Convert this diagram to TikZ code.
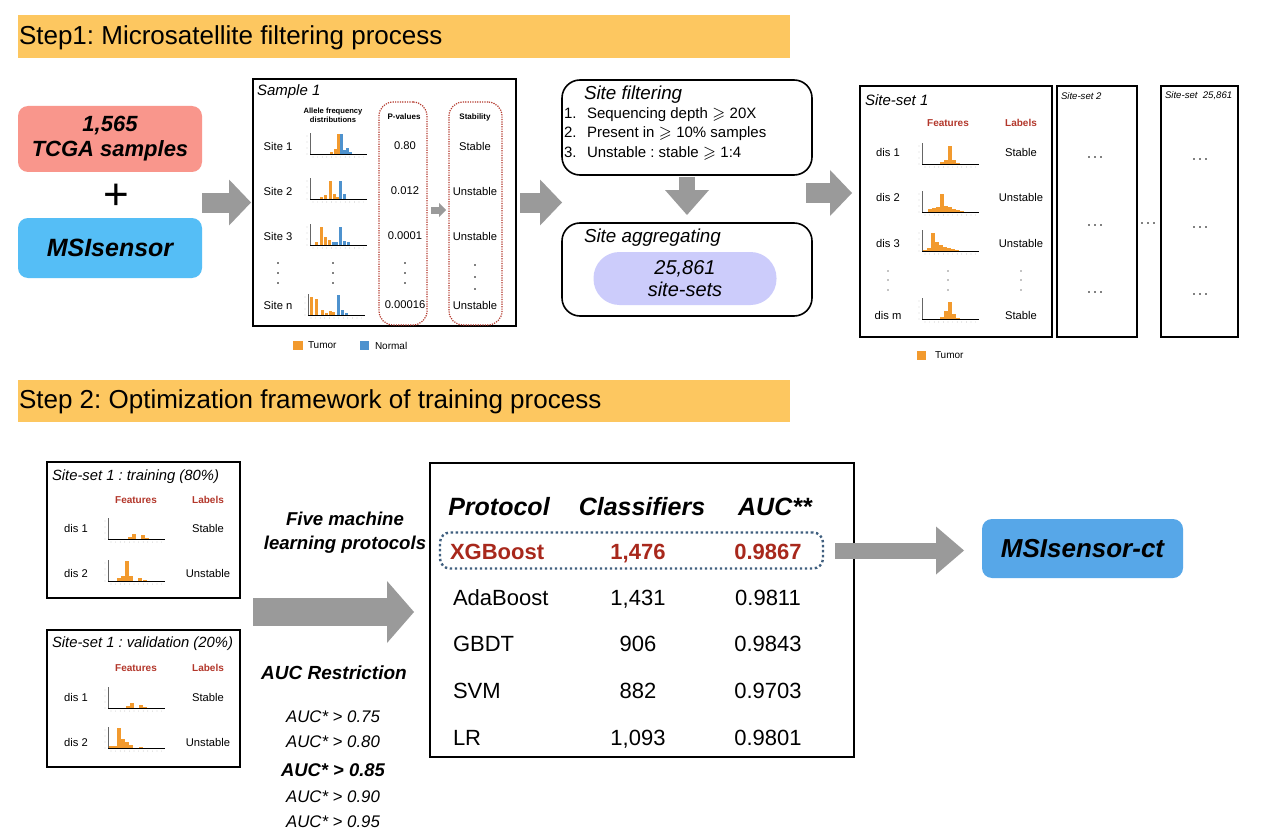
\documentclass[tikz,border=0pt]{standalone}
\usepackage{fontspec}
\setmainfont{Liberation Sans}
\usepackage{amssymb}
\usetikzlibrary{arrows.meta,fit,calc}
\definecolor{hdrc}{HTML}{FDC760}
\definecolor{tcgac}{HTML}{F9968C}
\definecolor{msic}{HTML}{55BEF6}
\definecolor{ctc}{HTML}{57A7E8}
\definecolor{pillc}{HTML}{CCCCFB}
\definecolor{arrc}{HTML}{9A9A9A}
\definecolor{dred}{HTML}{A8281C}
\definecolor{fred}{HTML}{B3372B}
\definecolor{dotblue}{HTML}{3F5F7F}
\definecolor{tum}{HTML}{F29A2E}
\definecolor{nor}{HTML}{4E92CE}
\newcommand{\fsz}[2]{\fontsize{#1}{#2}\selectfont}
\newcommand{\minihist}[4]{%
  \foreach \dx/\hh/\hc in {#4} {\fill[\hc] ({#2+\dx},{#3}) rectangle ({#2+\dx+#1},{#3-\hh});}
  \draw[line width=0.35pt] (#2,#3) -- ({#2+57},#3);
  \draw[line width=0.2pt, black!60] (#2,#3) -- (#2,{#3-21});
  \foreach \i in {0,...,11} {\fill[black!45] ({#2+3+\i*4.6},{#3+3}) circle (0.35);}
  \foreach \i in {0,...,3} {\fill[black!45] ({#2-3},{#3-\i*6}) circle (0.35);}
}
\begin{document}
\frenchspacing
\begin{tikzpicture}[x=0.5pt,y=-0.5pt,
  every node/.style={inner sep=0pt, outer sep=0pt},
  sz/.style 2 args={minimum width=#1*0.5pt, minimum height=#2*0.5pt},
  frame/.style={draw=black, line width=0.8pt},
  garrow/.style n args={3}{draw=arrc, line width=#1*0.5pt, -{Triangle[width=#2*0.5pt, length=#3*0.5pt, line width=0pt, fill=arrc]}},
  reddot/.style={draw=fred, line width=0.6pt, dash pattern=on 0.6pt off 0.6pt, rounded corners=7pt},
  small/.style={font=\fsz{5.6}{6.8}},
  feat/.style={font=\fsz{5}{6}\bfseries, text=fred},
  aucs/.style={font=\fsz{8.4}{10}\itshape},
  trow/.style={anchor=base, font=\fsz{11}{13}},
  vdot/.style={fill=black}
]
\useasboundingbox (0,0) rectangle (1280,840);
\fill[white] (0,0) rectangle (1280,840);

% ---------- headers
\node[fill=hdrc, sz={772}{43}] (hdr1) at (404,36.5) {};
\node[anchor=west, font={\fsz{13}{15}}] (hdr1t) at (19,38) {Step1: Microsatellite filtering process};
\node[fill=hdrc, sz={772}{42}] (hdr2) at (404,401) {};
\node[anchor=west, font={\fsz{13}{15}}] (hdr2t) at (19,402) {Step 2: Optimization framework of training process};

% ---------- inputs
\node[fill=tcgac, rounded corners=5pt, sz={184}{66}, align=center, font={\fsz{11}{12.5}\bfseries\itshape}] (tcga) at (110,139) {1,565\\TCGA samples};
\node[font={\fsz{22}{22}}] (plus) at (116,197) {+};
\node[fill=msic, rounded corners=5pt, sz={184}{60}, font={\fsz{12.5}{14}\bfseries\itshape}] (msi) at (110,248) {MSIsensor};

% ---------- sample box
\node[frame, sz={263}{247}] (sample) at (384.5,202.5) {};
\node[anchor=west, font={\fsz{7.5}{9}\itshape}] (smp) at (257,92) {Sample 1};
\node[reddot, sz={48}{223}] (pbox) at (403,213.5) {};
\node[reddot, sz={53}{223}] (sbox) at (475.5,213.5) {};
\node[align=center, font={\fsz{3.8}{4.6}\bfseries}] (afd) at (333,115) {Allele frequency\\distributions};
\node[font={\fsz{4}{5}\bfseries}] (pv) at (404,117) {P-values};
\node[font={\fsz{4}{5}\bfseries}] (stb) at (475,117) {Stability};
\foreach \y/\s/\p/\st [count=\i] in {146/1/0.80/Stable, 191/2/0.012/Unstable, 236/3/0.0001/Unstable, 305/n/0.00016/Unstable} {
  \node[small] (site\i) at (278,\y) {Site \s};
  \node[small] (pval\i) at (405,\y) {\p};
  \node[small] (stab\i) at (475,\y) {\st};
}
\foreach \x in {278,333,405} {\foreach \y in {263,273,283} {\fill (\x,\y) circle (0.8);}}
\foreach \y in {265,277,289} {\fill (475,\y) circle (0.9);}
\minihist{3}{310}{154}{20/2/tum, 24/5/tum, 27/20/tum, 30/20/nor, 33/4/nor, 36/6/nor, 39/2/nor}
\minihist{3}{310}{199}{10/2/tum, 14/4/tum, 19/18/tum, 23/5/tum, 26/2/tum, 29/18/nor, 33/5/nor}
\minihist{3}{310}{245}{5/3/tum, 10/18/tum, 14/8/tum, 18/5/tum, 22/3/nor, 25/3/nor, 29/18/nor, 33/4/nor, 37/3/nor}
\minihist{3}{308}{315}{2/18/tum, 7/16/tum, 13/5/tum, 17/2/tum, 21/4/tum, 24/3/tum, 29/20/nor, 33/5/nor, 37/2/nor}
\fill[tum] (293,341) rectangle (303,350);
\node[anchor=west, font={\fsz{5}{6}}] (lgt) at (308,345.5) {Tumor};
\fill[nor] (360,341) rectangle (369,350);
\node[anchor=west, font={\fsz{5}{6}}] (lgn) at (375,345.5) {Normal};

% ---------- filtering / aggregating
\node[frame, rounded corners=9pt, sz={250}{95}] (filt) at (687,127.5) {};
\node[anchor=west, font={\fsz{9.4}{11}\itshape}] (filtt) at (584,95) {Site filtering};
\node[anchor=west, font={\fsz{7.5}{9}}] (f1) at (564,115) {\makebox[11.5pt][l]{1.}Sequencing depth $\geqslant$ 20X};
\node[anchor=west, font={\fsz{7.5}{9}}] (f2) at (564,134) {\makebox[11.5pt][l]{2.}Present in $\geqslant$ 10\% samples};
\node[anchor=west, font={\fsz{7.5}{9}}] (f3) at (564,153) {\makebox[11.5pt][l]{3.}Unstable : stable $\geqslant$ 1:4};
\node[frame, rounded corners=9pt, sz={250}{93}] (aggr) at (687,269.5) {};
\node[anchor=west, font={\fsz{9.4}{11}\itshape}] (aggrt) at (584,238) {Site aggregating};
\node[fill=pillc, rounded corners=13pt, sz={183}{53}, align=center, font={\fsz{10}{11}\itshape}] (pill) at (685,278.5) {25,861\\site-sets};

% ---------- site-sets
\node[frame, sz={192}{251}] (ss1) at (956,211.5) {};
\node[anchor=west, font={\fsz{7.5}{9}\itshape}] (ss1t) at (865,100) {Site-set 1};
\node[feat] (ss1f) at (948,123) {Features};
\node[feat] (ss1l) at (1021,123) {Labels};
\foreach \y/\s/\l [count=\i] in {152/1/Stable, 197/2/Unstable, 243/3/Unstable, 315/m/Stable} {
  \node[small] (dis\i) at (888,\y) {dis \s};
  \node[small] (lab\i) at (1021,\y) {\l};
}
\foreach \x in {888,948,1021} {\foreach \y in {271,280,290} {\fill (\x,\y) circle (0.7);}}
\minihist{4}{922}{164}{18/2/tum, 22/4/tum, 26/18/tum, 30/4/tum, 34/1/tum}
\minihist{4}{922}{212}{6/3/tum, 10/4/tum, 14/5/tum, 18/18/tum, 22/6/tum, 26/5/tum, 30/3/tum, 34/2/tum, 38/1/tum}
\minihist{4}{922}{251}{1/1/tum, 5/3/tum, 9/18/tum, 13/9/tum, 17/6/tum, 21/4/tum, 25/3/tum, 29/2/tum, 33/1/tum}
\minihist{4}{922}{319}{18/2/tum, 22/8/tum, 26/17/tum, 30/5/tum, 34/1/tum}
\fill[tum] (917,351) rectangle (926,360);
\node[anchor=west, font={\fsz{5}{6}}] (lgt2) at (935,355.5) {Tumor};
\node[frame, sz={80}{251}] (ss2) at (1097,211.5) {};
\node[anchor=west, font={\fsz{4.8}{6}\itshape}] (ss2t) at (1061,96) {Site-set 2};
\node[frame, sz={77}{251}] (ssn) at (1199.5,211.5) {};
\node[anchor=west, font={\fsz{4.8}{6}\itshape}] (ssnt) at (1165,96) {Site-set\ \ 25,861};
\foreach \y in {157,225,292} {\foreach \dx in {-6,0,6} {\fill ({1095+\dx},\y) circle (0.8);}}
\foreach \y in {159,227,294} {\foreach \dx in {-6,0,6} {\fill ({1200+\dx},\y) circle (0.8);}}
\foreach \dx in {-6,0,6} {\fill ({1148+\dx},223) circle (0.8);}

% ---------- step 1 arrows
\draw[garrow={20}{46}{22}] (tcga.east |- sample.west) -- ([xshift=-1pt]sample.west);
\draw[garrow={20}{46}{22}] ([xshift=2pt]sample.east) -- (filt.west |- sample.east);
\draw[garrow={7}{14}{7}] ([xshift=2pt]pbox.east |- 0,210) -- ([xshift=-1.5pt]sbox.west |- 0,210);
\draw[garrow={16}{44}{25}] ([yshift=-1pt]filt.south) -- ([yshift=4pt]aggr.north);
\draw[garrow={20}{46}{22}] ([xshift=-3pt]filt.east |- 0,193) -- ([xshift=-4pt]ss1.west |- 0,193);

% ---------- step 2 left boxes
\node[frame, sz={193}{136}] (train) at (143.5,530) {};
\node[anchor=west, font={\fsz{7.4}{9}\itshape}] (traint) at (52,477) {Site-set 1 : training (80\%)};
\node[feat] (trf) at (136,500) {Features};
\node[feat] (trl) at (208,500) {Labels};
\node[small] (trd1) at (76,528) {dis 1};
\node[small] (trd2) at (76,573) {dis 2};
\node[small] (trs1) at (208,528) {Stable};
\node[small] (trs2) at (208,573) {Unstable};
\minihist{4}{108}{539}{20/2/tum, 24/5/tum, 33/4/tum, 37/1/tum}
\minihist{4}{108}{581}{9/3/tum, 13/5/tum, 17/20/tum, 21/5/tum, 30/3/tum, 35/1/tum}
\node[frame, sz={193}{137}] (valid) at (143.5,698.5) {};
\node[anchor=west, font={\fsz{7.4}{9}\itshape}] (validt) at (52,644) {Site-set 1 : validation (20\%)};
\node[feat] (vaf) at (136,668) {Features};
\node[feat] (val) at (208,668) {Labels};
\node[small] (vad1) at (76,697) {dis 1};
\node[small] (vad2) at (76,742) {dis 2};
\node[small] (vas1) at (208,697) {Stable};
\node[small] (vas2) at (208,742) {Unstable};
\minihist{4}{108}{708}{18/2/tum, 22/5/tum, 31/3/tum, 35/1/tum}
\minihist{4}{108}{748}{1/2/tum, 5/2/tum, 9/20/tum, 13/9/tum, 17/6/tum, 21/3/tum, 31/1/tum}

% ---------- middle texts
\node[align=center, font={\fsz{9.3}{12}\bfseries\itshape}] (fml) at (345,533) {Five machine\\learning protocols};
\node[font={\fsz{9.5}{11}\bfseries\itshape}] (aucr) at (334,673) {AUC Restriction};
\node[aucs] (auc1) at (333,717) {AUC* > 0.75};
\node[aucs] (auc2) at (333,742) {AUC* > 0.80};
\node[font={\fsz{9.2}{11}\bfseries\itshape}] (auc3) at (333,770) {AUC* > 0.85};
\node[aucs] (auc4) at (333,797) {AUC* > 0.90};
\node[aucs] (auc5) at (333,822) {AUC* > 0.95};

% ---------- table
\node[frame, sz={424}{294}] (tbl) at (642,610) {};
\node[font={\fsz{12.5}{15}\bfseries\itshape}] (th1) at (499,507) {Protocol};
\node[font={\fsz{12.5}{15}\bfseries\itshape}] (th2) at (642,507) {Classifiers};
\node[font={\fsz{12.5}{15}\bfseries\itshape}] (th3) at (775,507) {AUC**};
\node[draw=dotblue, line width=1.2pt, dash pattern=on 1.2pt off 1.3pt, rounded corners=5pt, sz={383}{36}] (xgbox) at (631.5,550.5) {};
\node[trow, anchor=base west, font={\fsz{11}{13}\bfseries}, text=dred] (p1) at (450,559) {XGBoost};
\node[trow, font={\fsz{11}{13}\bfseries}, text=dred] (c1) at (638,559) {1,476};
\node[trow, font={\fsz{11}{13}\bfseries}, text=dred] (a1) at (768,559) {0.9867};
\foreach \y/\p/\c/\a [count=\i from 2] in {605/AdaBoost/{1,431}/0.9811, 651/GBDT/906/0.9843, 698/SVM/882/0.9703, 745/LR/{1,093}/0.9801} {
  \node[trow, anchor=base west] (p\i) at (453,\y) {\p};
  \node[trow] (c\i) at (638,\y) {\c};
  \node[trow] (a\i) at (768,\y) {\a};
}

% ---------- result
\node[fill=ctc, rounded corners=5pt, sz={201}{59}, font={\fsz{13}{15}\bfseries\itshape}] (ct) at (1082.5,548.5) {MSIsensor-ct};

% ---------- step 2 arrows
\draw[garrow={28}{62}{27}] ([xshift=6.5pt]train.east |- 0,612) -- ([xshift=-8pt]tbl.west |- 0,612);
\draw[garrow={16}{48}{28}] ([xshift=6pt]xgbox.east) -- ([xshift=-9pt]ct.west |- xgbox.east);
\end{tikzpicture}
\end{document}
